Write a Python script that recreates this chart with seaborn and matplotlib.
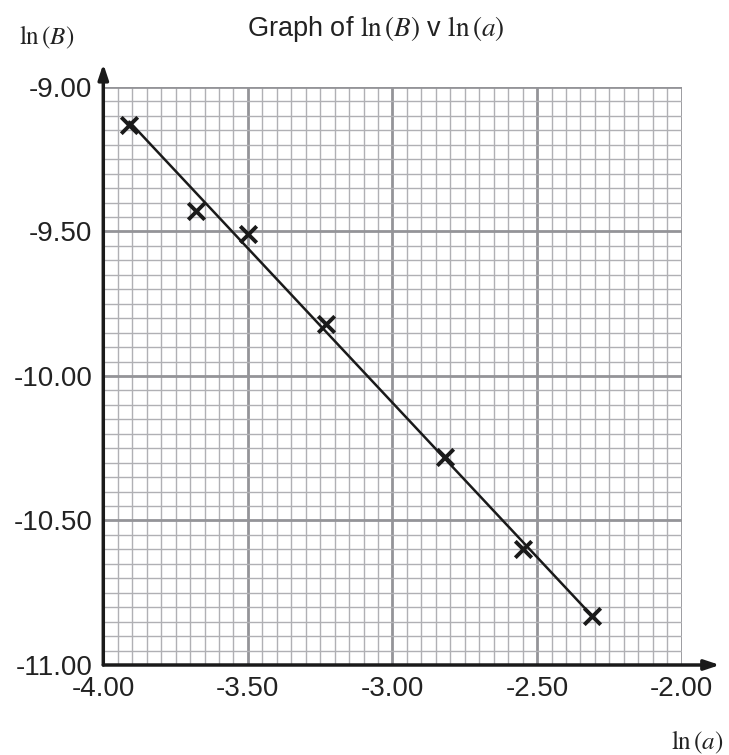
import numpy as np
import pandas as pd
import seaborn as sns
import matplotlib.pyplot as plt
from matplotlib.ticker import MultipleLocator, FormatStrFormatter

# values
ln_a = [-3.91, -3.68, -3.50, -3.23, -2.82, -2.55, -2.31]
ln_B = [-9.13, -9.43, -9.51, -9.82, -10.28, -10.60, -10.83]

# best fit line drawn between the first and last points
fit_x = [-3.91, -2.31]
fit_y = [-9.12, -10.83]

x_ticks = [-4.00, -3.50, -3.00, -2.50, -2.00]
y_ticks = [-11.00, -10.50, -10.00, -9.50, -9.00]

df = pd.DataFrame({'ln_a': ln_a, 'ln_B': ln_B})
fit = pd.DataFrame({'x': fit_x, 'y': fit_y})

sns.set_style('white')
plt.rcParams['font.family'] = ['Liberation Sans', 'DejaVu Sans']
plt.rcParams['mathtext.fontset'] = 'stix'

fig = plt.figure(figsize=(7.29, 7.55), dpi=100)
ax = fig.add_axes([0.1417, 0.1192, 0.7934, 0.7656])

sns.lineplot(data=fit, x='x', y='y', color='#1a1a1a', linewidth=1.8, ax=ax, zorder=3)
sns.scatterplot(data=df, x='ln_a', y='ln_B', marker='x', s=140, color='#1a1a1a',
                linewidth=2.8, ax=ax, zorder=4)

ax.set_xlim(-4.0, -2.0)
ax.set_ylim(-11.0, -9.0)
ax.set_xticks(x_ticks)
ax.set_yticks(y_ticks)
ax.xaxis.set_major_formatter(FormatStrFormatter('%.2f'))
ax.yaxis.set_major_formatter(FormatStrFormatter('%.2f'))
ax.xaxis.set_minor_locator(MultipleLocator(0.05))
ax.yaxis.set_minor_locator(MultipleLocator(0.05))

ax.grid(which='minor', color='#b0b0b4', linewidth=1.0)
ax.grid(which='major', color='#949498', linewidth=2.0)
ax.set_axisbelow(True)

ax.tick_params(which='major', direction='out', length=7, width=2, color='#1a1a1a',
               labelsize=20, pad=1, labelcolor='#222222')
ax.tick_params(which='minor', length=0)

for side in ['top', 'right', 'left', 'bottom']:
    ax.spines[side].set_visible(False)

# axes drawn as arrows
ax.annotate('', xy=(0, 1.04), xytext=(0, 0), xycoords='axes fraction',
            arrowprops=dict(arrowstyle='-|>,head_length=0.9,head_width=0.3',
                            color='#1a1a1a', lw=2.5, shrinkA=0, shrinkB=0),
            annotation_clip=False)
ax.annotate('', xy=(1.066, 0), xytext=(0, 0), xycoords='axes fraction',
            arrowprops=dict(arrowstyle='-|>,head_length=0.9,head_width=0.3',
                            color='#1a1a1a', lw=2.5, shrinkA=0, shrinkB=0),
            annotation_clip=False)

ax.set_xlabel('')
ax.set_ylabel('')
fig.text(0.516, 0.962, r'Graph of $\mathrm{ln}\,(B)$ v $\mathrm{ln}\,(a)$',
         ha='center', va='center', fontsize=19.5, color='#222222')
fig.text(0.064, 0.951, r'$\mathrm{ln}\,(B)$', ha='center', va='center',
         fontsize=18, color='#222222')
fig.text(0.956, 0.017, r'$\mathrm{ln}\,(a)$', ha='center', va='center',
         fontsize=18, color='#222222')

plt.savefig('out.png', dpi=100)
